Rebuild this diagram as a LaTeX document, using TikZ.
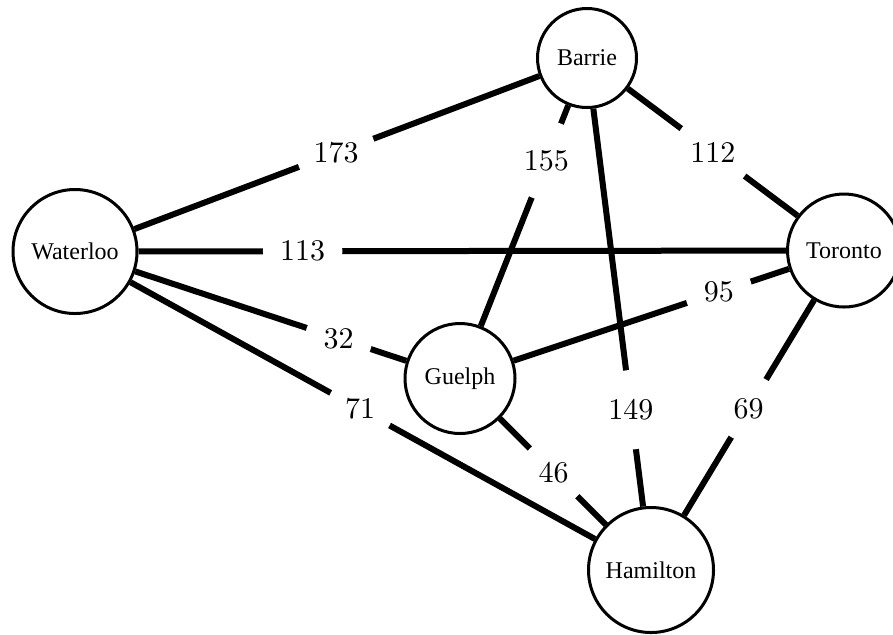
\documentclass[tikz,border=0pt]{standalone}
\usepackage{fontspec}
\newfontfamily\cityfont{Liberation Serif}
\newfontfamily\distfont{lmroman10-regular}[Extension=.otf]
\usetikzlibrary{calc}
\begin{document}
\begin{tikzpicture}[x=0.5pt,y=-0.5pt,
  city/.style={circle, draw, line width=1.5pt, fill=white, inner sep=0pt,
    font=\cityfont\fontsize{12}{14}\selectfont},
  road/.style={line width=3pt},
  dist/.style={circle, fill=white, inner sep=5.5pt,
    font=\distfont\fontsize{15}{18}\selectfont}]
\useasboundingbox (0,0) rectangle (893,634);

% cities
\node[city, minimum size=62pt]   (W) at (75,251.5) {Waterloo};
\node[city, minimum size=49.5pt] (B) at (587,58)   {Barrie};
\node[city, minimum size=56.5pt] (T) at (844,250.5) {Toronto};
\node[city, minimum size=55pt]   (G) at (460,378.5) {Guelph};
\node[city, minimum size=62.5pt] (H) at (651,570)  {Hamilton};

% roads with their distances
\draw[road] (W) -- (B);
\node[dist] (dWB) at ($(W)!0.51!(B)$) {173};
\draw[road] (W) -- (T);
\node[dist] (dWT) at ($(W)!0.296!(T)$) {113};
\draw[road] (B) -- (T);
\node[dist] (dBT) at ($(B)!0.49!(T)$) {112};
\draw[road] (B) -- (G);
\node[dist] (dBG) at ($(B)!0.32!(G)$) {155};
\draw[road] (B) -- (H);
\node[dist] (dBH) at ($(B)!0.687!(H)$) {149};
\draw[road] (G) -- (T);
\node[dist] (dGT) at ($(G)!0.674!(T)$) {95};
\draw[road] (W) -- (G);
\node[dist] (dWG) at ($(W)!0.685!(G)$) {32};
\draw[road] (G) -- (H);
\node[dist] (dGH) at ($(G)!0.49!(H)$) {46};
\draw[road] (W) -- (H);
\node[dist] (dWH) at ($(W)!0.495!(H)$) {71};
\draw[road] (T) -- (H);
\node[dist] (dTH) at ($(T)!0.494!(H)$) {69};
\end{tikzpicture}
\end{document}
